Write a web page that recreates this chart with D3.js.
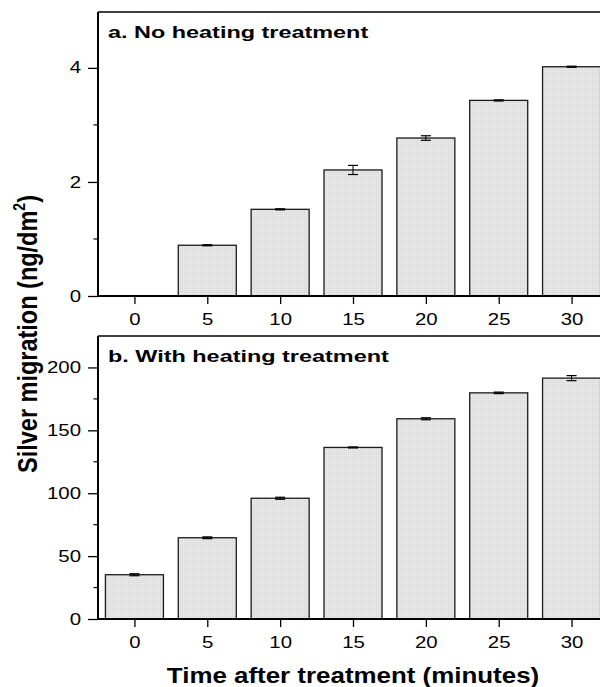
<!DOCTYPE html>
<html><head><meta charset="utf-8">
<script src="https://cdn.jsdelivr.net/npm/d3@7"></script>
<style>body{margin:0;background:#fff}svg{display:block}text{font-family:"Liberation Sans",Arial,sans-serif}</style>
</head><body><div id="c"></div>
<script>
const times = [0, 5, 10, 15, 20, 25, 30];
const noHeat = [0, 0.89, 1.52, 2.21, 2.77, 3.43, 4.02];
const noHeatErr = [0, 0.01, 0.01, 0.08, 0.04, 0.01, 0.01];
const withHeat = [35.2, 64.6, 96.0, 136.4, 159.2, 179.8, 191.5];
const withHeatErr = [0.8, 0.7, 0.8, 0.4, 0.8, 0.6, 2.0];
const topTicks = [0, 2, 4];
const botTicks = [0, 50, 100, 150, 200];

const W = 600, H = 687;
const SX = 1.2; // horizontal stretch of tick text
const svg = d3.select("#c").append("svg").attr("width", W).attr("height", H);
const defs = svg.append("defs");
const pat = defs.append("pattern").attr("id","dots").attr("width",2).attr("height",2).attr("patternUnits","userSpaceOnUse");
pat.append("rect").attr("width",2).attr("height",2).attr("fill","#e7e7e7");
pat.append("rect").attr("width",1).attr("height",1).attr("fill","#d6d6d6");

const x = d3.scaleLinear().domain([-2.5, 32.5]).range([98, 608]);
const barW = 58;

function panel(vals, errs, yDomain, yRange, majors, minors, label) {
  const y = d3.scaleLinear().domain(yDomain).range(yRange);
  const g = svg.append("g");
  g.selectAll("rect.bar").data(vals).join("rect")
    .attr("x", (d,i) => x(times[i]) - barW/2)
    .attr("y", d => y(d))
    .attr("width", barW)
    .attr("height", d => y(0) - y(d))
    .attr("fill", d => d > 0 ? "url(#dots)" : "none")
    .attr("stroke", d => d > 0 ? "#1a1a1a" : "none")
    .attr("stroke-width", 1.3);
  vals.forEach((d, i) => {
    if (d <= 0) return;
    const cx = x(times[i]), e = errs[i];
    g.append("line").attr("x1",cx).attr("x2",cx).attr("y1",y(d-e)).attr("y2",y(d+e)).attr("stroke","#000").attr("stroke-width",1);
    [d-e, d+e].forEach(v => g.append("line").attr("x1",cx-5).attr("x2",cx+5).attr("y1",y(v)).attr("y2",y(v)).attr("stroke","#000").attr("stroke-width",1.2));
  });
  g.append("line").attr("x1", x.range()[0]).attr("x2", x.range()[1]).attr("y1", yRange[1]).attr("y2", yRange[1]).attr("stroke","#000").attr("stroke-width",1.4);
  const ya = g.append("g").attr("transform", `translate(${x.range()[0]},0)`)
    .call(d3.axisLeft(y).tickValues(majors).tickSize(10).tickFormat(d3.format("d")));
  ya.select(".domain").attr("stroke-width",2).attr("d", `M0,${yRange[0]}V${yRange[1]}`);
  ya.selectAll(".tick line").attr("stroke-width",1.3);
  ya.selectAll(".tick text").attr("font-size",17).attr("fill","#000")
    .attr("x",-17/SX).attr("dy","0.3em").attr("transform",`scale(${SX},1)`);
  ya.selectAll("line.minor").data(minors).join("line").attr("class","minor")
    .attr("x1",-4.5).attr("x2",0).attr("y1",d=>y(d)).attr("y2",d=>y(d)).attr("stroke","#000").attr("stroke-width",1.2);
  const xa = g.append("g").attr("transform", `translate(0,${yRange[0]})`)
    .call(d3.axisBottom(x).tickValues(times).tickSize(8).tickFormat(d3.format("d")));
  xa.select(".domain").attr("stroke-width",2.2).attr("d", `M${x.range()[0]-1},0H${x.range()[1]}`);
  xa.selectAll(".tick line").attr("stroke-width",1.3);
  xa.selectAll(".tick text").attr("font-size",17).attr("fill","#000")
    .attr("y",17.2).attr("transform",`scale(${SX},1)`);
  g.append("text").attr("transform",`translate(108,${yRange[1]+25.5}) scale(1.42,1)`)
    .attr("font-size",16.5).attr("font-weight","bold").text(label);
}

panel(noHeat, noHeatErr, [0, 4.98], [296, 12], topTicks, [1, 3], "a. No heating treatment");
panel(withHeat, withHeatErr, [0, 225], [619, 336], botTicks, [25, 75, 125, 175], "b. With heating treatment");

const yt = svg.append("text").attr("transform","translate(37,334) rotate(-90) scale(1,1.18)").attr("text-anchor","middle")
  .attr("font-size",23.5).attr("font-weight","bold");
yt.append("tspan").text("Silver migration (ng/dm");
yt.append("tspan").attr("font-size",14).attr("dy",-10).text("2");
yt.append("tspan").attr("dy",10).text(")");
svg.append("text").attr("transform","translate(353,683) scale(1.206,1)").attr("text-anchor","middle")
  .attr("font-size",21.5).attr("font-weight","bold").text("Time after treatment (minutes)");
</script></body></html>
